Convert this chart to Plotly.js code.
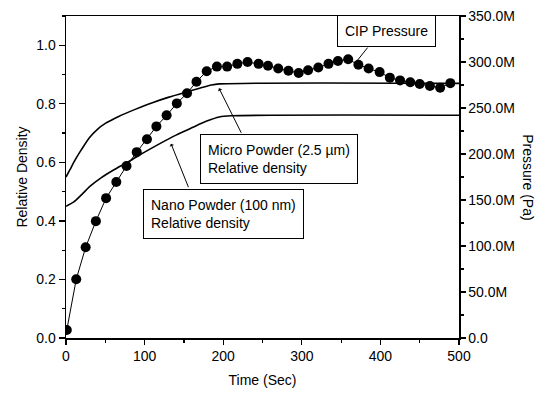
<!DOCTYPE html>
<html>
<head>
<meta charset="utf-8">
<script src="https://cdn.plot.ly/plotly-3.0.1.min.js"></script>
<style>html,body{margin:0;padding:0;background:#fff;}#chart{width:549px;height:395px;}</style>
</head>
<body>
<div id="chart"></div>
<script>
// CIP pressure (Pa) vs time (s)
const pressureTime = [1,13,25,38,51,64,77,90,103,115,128,141,154,166,179,192,205,218,231,245,257,270,283,296,308,321,334,346,359,372,385,399,412,425,438,450,463,476,489];
const pressureMPa = [8.7,63.8,98.6,127,152,169.5,187,202,216,230,242,255,266,278.6,290,295,295,298,300,298,296,293,290.5,288,291,294,298,301,303,297,293,289,283,280,278,276,274,272,277];
const pressurePa = pressureMPa.map(v => v * 1e6);

// Micro powder (2.5 um) relative density
const microTime = [0,5,12,20,30,40,50,67,88,109,130,150,170,185,195,500];
const microDensity = [0.55,0.575,0.61,0.645,0.685,0.713,0.733,0.757,0.781,0.803,0.822,0.838,0.853,0.864,0.868,0.870];

// Nano powder (100 nm) relative density
const nanoTime = [0,10,20,30,45,60,80,100,120,140,160,180,195,210,500];
const nanoDensity = [0.45,0.465,0.49,0.517,0.548,0.573,0.603,0.635,0.665,0.693,0.718,0.742,0.755,0.759,0.761];

// Right-axis tick labels
const pressureTickVals = [0,50e6,100e6,150e6,200e6,250e6,300e6,350e6];
const pressureTickText = ['0.0','50.0M','100.0M','150.0M','200.0M','250.0M','300.0M','350.0M'];

const FONT = 'Liberation Sans, Arial, sans-serif';
const fs = 14;

const traces = [
  {x: microTime, y: microDensity, mode: 'lines', line: {color: '#000', width: 1.6, shape: 'spline', smoothing: 0.8}, yaxis: 'y', showlegend: false, hoverinfo: 'skip'},
  {x: nanoTime, y: nanoDensity, mode: 'lines', line: {color: '#000', width: 1.6, shape: 'spline', smoothing: 0.8}, yaxis: 'y', showlegend: false, hoverinfo: 'skip'},
  {x: pressureTime, y: pressurePa, mode: 'lines+markers', line: {color: '#000', width: 1}, marker: {color: '#000', size: 10}, yaxis: 'y2', showlegend: false}
];

const layout = {
  width: 549, height: 395,
  margin: {l: 66, r: 90, t: 16, b: 57},
  paper_bgcolor: '#fff', plot_bgcolor: '#fff',
  font: {family: FONT, size: fs, color: '#000'},
  showlegend: false,
  xaxis: {
    range: [0, 500], dtick: 100, tick0: 0,
    showgrid: false, zeroline: false,
    showline: true, linecolor: '#000', linewidth: 1.5, mirror: true,
    ticks: 'outside', ticklen: 5, tickwidth: 1.2, tickcolor: '#000',
    minor: {dtick: 50, ticks: 'outside', ticklen: 3, tickwidth: 1.2, tickcolor: '#000', showgrid: false},
    tickfont: {family: FONT, size: fs},
    title: {text: 'Time (Sec)', font: {family: FONT, size: fs}, standoff: 12},
    fixedrange: true
  },
  yaxis: {
    range: [0, 1.1], dtick: 0.2, tick0: 0, tickformat: '.1f',
    showgrid: false, zeroline: false,
    showline: true, linecolor: '#000', linewidth: 1.5,
    ticks: 'outside', ticklen: 6, tickwidth: 1.2, tickcolor: '#000',
    minor: {dtick: 0.1, ticks: 'outside', ticklen: 3, tickwidth: 1.2, tickcolor: '#000', showgrid: false},
    tickfont: {family: FONT, size: fs},
    title: {text: 'Relative Density', font: {family: FONT, size: fs}, standoff: 5},
    fixedrange: true
  },
  yaxis2: {
    overlaying: 'y', side: 'right',
    range: [0, 350e6],
    tickvals: pressureTickVals, ticktext: pressureTickText,
    showgrid: false, zeroline: false,
    showline: true, linecolor: '#000', linewidth: 1.5,
    ticks: 'outside', ticklen: 5, tickwidth: 1.2, tickcolor: '#000',
    minor: {dtick: 25e6, ticks: 'outside', ticklen: 3, tickwidth: 1.2, tickcolor: '#000', showgrid: false},
    tickfont: {family: FONT, size: fs},
    fixedrange: true
  },
  annotations: [
    // right axis title, reading top-to-bottom
    {text: 'Pressure (Pa)', xref: 'paper', yref: 'paper', x: 1.175, y: 0.5, xanchor: 'center', yanchor: 'middle', textangle: 90, showarrow: false, font: {family: FONT, size: fs}},
    // label boxes
    {text: 'CIP Pressure', xref: 'paper', yref: 'paper', x: 0.6896, y: 1.003, xanchor: 'left', yanchor: 'top', showarrow: false, bordercolor: '#000', borderwidth: 1, borderpad: 7, bgcolor: '#fff', font: {family: FONT, size: fs}},
    {text: 'Micro Powder (2.5 µm)<br>Relative density', xref: 'paper', yref: 'paper', x: 0.341, y: 0.634, xanchor: 'left', yanchor: 'top', align: 'left', showarrow: false, bordercolor: '#000', borderwidth: 1, borderpad: 7, bgcolor: '#fff', font: {family: FONT, size: fs}},
    {text: 'Nano Powder (100 nm)<br>Relative density', xref: 'paper', yref: 'paper', x: 0.196, y: 0.4627, xanchor: 'left', yanchor: 'top', align: 'left', showarrow: false, bordercolor: '#000', borderwidth: 1, borderpad: 7, bgcolor: '#fff', font: {family: FONT, size: fs}},
    // pointer lines
    {text: '', xref: 'x', yref: 'y2', x: 370, y: 301e6, ax: 12, ay: -15, showarrow: true, arrowhead: 0, arrowwidth: 1, arrowcolor: '#000'},
    {text: '', xref: 'x', yref: 'y', x: 194.7, y: 0.853, ax: 23, ay: 46, showarrow: true, arrowhead: 1, arrowsize: 0.8, arrowwidth: 1, arrowcolor: '#000'},
    {text: '', xref: 'x', yref: 'y', x: 133.6, y: 0.664, ax: 18, ay: 45, showarrow: true, arrowhead: 1, arrowsize: 0.8, arrowwidth: 1, arrowcolor: '#000'}
  ]
};

Plotly.newPlot('chart', traces, layout, {staticPlot: true, displayModeBar: false});
</script>
</body>
</html>
